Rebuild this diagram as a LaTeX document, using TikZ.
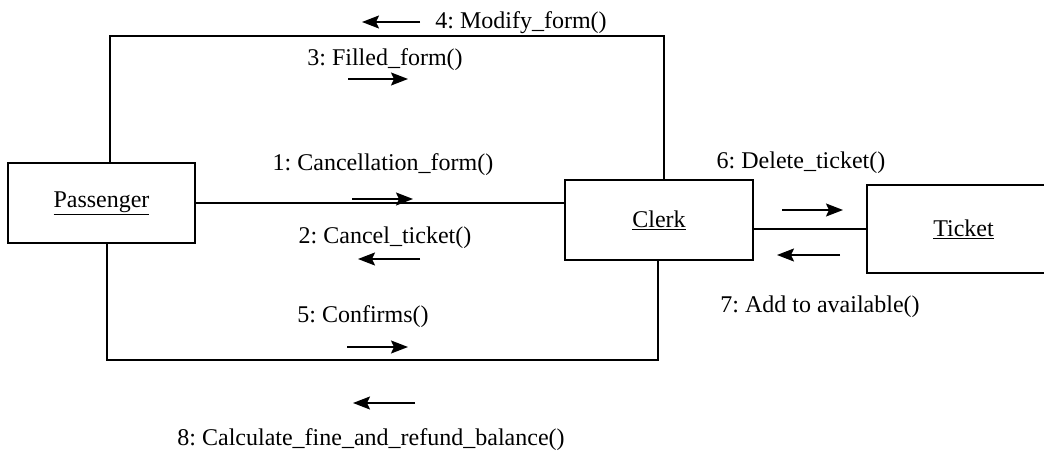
\documentclass[tikz,border=0pt]{standalone}
\usepackage{fontspec}
\setmainfont{Liberation Serif}
\usetikzlibrary{arrows.meta}
\frenchspacing
\begin{document}
\begin{tikzpicture}[x=1pt,y=-1pt,
  objbox/.style={draw, line width=1.7pt, inner sep=0pt,
    font=\fontsize{24}{28}\selectfont},
  link/.style={line width=1.7pt},
  msg/.style={line width=1.7pt, -{Stealth[length=17pt,width=13pt,inset=3pt]}},
  lbl/.style={font=\fontsize{24}{28}\selectfont, inner sep=0pt}]
\clip (0,0) rectangle (1044,465);
\fill[white] (0,0) rectangle (1044,465);

% objects
\node[objbox, minimum width=187pt, minimum height=80pt] (pass) at (101.5,203) {\underline{Passenger}};
\node[objbox, minimum width=188pt, minimum height=80pt] (clerk) at (659,220) {\underline{Clerk}};
\node[objbox, minimum width=193pt, minimum height=88pt] (ticket) at (963.5,229) {\underline{Ticket}};

% links
\coordinate (tl) at (110,36);
\coordinate (tr) at (664,36);
\coordinate (bl) at (107,360);
\coordinate (br) at (658,360);
\draw[link] (pass.north -| tl) -- (tl) -- (tr) -- (tr |- clerk.north);
\draw[link] (pass.south -| bl) -- (bl) -- (br) -- (br |- clerk.south);
\draw[link] (pass.east) -- (pass.east -| clerk.west);
\draw[link] (clerk.east |- ticket.west) -- (ticket.west);

% messages
\coordinate (m4s) at (420,22);  \coordinate (m4e) at (362,22);
\coordinate (m3s) at (348,79);  \coordinate (m3e) at (408,79);
\coordinate (m1s) at (352,199); \coordinate (m1e) at (413,199);
\coordinate (m2s) at (420,259); \coordinate (m2e) at (358,259);
\coordinate (m5s) at (347,347); \coordinate (m5e) at (408,347);
\coordinate (m8s) at (415,403); \coordinate (m8e) at (353,403);
\coordinate (m6s) at (782,210); \coordinate (m6e) at (843,210);
\coordinate (m7s) at (840,255); \coordinate (m7e) at (777,255);
\foreach \m in {4,3,1,2,5,8,6,7} \draw[msg] (m\m s) -- (m\m e);

\node[lbl] (l4) at (521,23) {4: Modify\_form()};
\node[lbl] (l3) at (385,60) {3: Filled\_form()};
\node[lbl] (l1) at (383,165) {1: Cancellation\_form()};
\node[lbl] (l2) at (385,238) {2: Cancel\_ticket()};
\node[lbl] (l5) at (363,317) {5: Confirms()};
\node[lbl] (l8) at (371,440) {8: Calculate\_fine\_and\_refund\_balance()};
\node[lbl] (l6) at (801,163) {6: Delete\_ticket()};
\node[lbl] (l7) at (820,307) {7: Add to available()};
\end{tikzpicture}
\end{document}
